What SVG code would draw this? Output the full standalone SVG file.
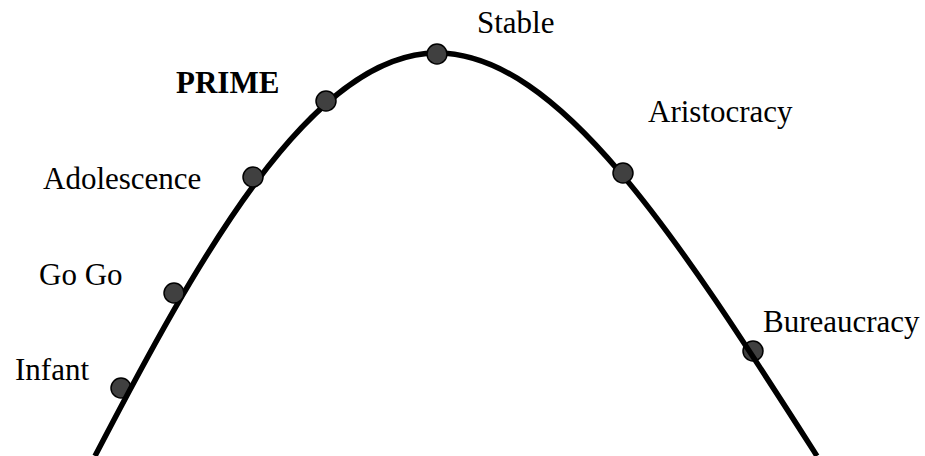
<svg xmlns="http://www.w3.org/2000/svg" width="925" height="456" viewBox="0 0 925 456">
<style>
.dot{fill:#404040;stroke:#000;stroke-width:1.5}
.lbl{font-family:"Liberation Serif","Times New Roman",serif;font-size:31px;fill:#000}
.b{font-weight:bold}
.curve{fill:none;stroke:#000;stroke-width:5.5}
</style>
<rect width="925" height="456" fill="#fff"/>
<g id="infant"><circle class="dot" cx="121" cy="388" r="10"/><text class="lbl" x="15" y="380">Infant</text></g>
<g id="bureaucracy"><circle class="dot" cx="753" cy="351" r="10"/><text class="lbl" x="763" y="332">Bureaucracy</text></g>
<g id="connectors">
<path class="curve" d="M95,456 C195,264 310,53 437,53 C560,53 680,242 817,456"/>
</g>
<g id="gogo"><circle class="dot" cx="174" cy="293" r="10"/><text class="lbl" x="39" y="285">Go Go</text></g>
<g id="adolescence"><circle class="dot" cx="253" cy="177" r="10"/><text class="lbl" x="43" y="189">Adolescence</text></g>
<g id="prime"><circle class="dot" cx="326" cy="101" r="10"/><text class="lbl b" x="176" y="93">PRIME</text></g>
<g id="stable"><circle class="dot" cx="437" cy="54" r="10"/><text class="lbl" x="477" y="33">Stable</text></g>
<g id="aristocracy"><circle class="dot" cx="623" cy="173" r="10"/><text class="lbl" x="648" y="122">Aristocracy</text></g>
</svg>
